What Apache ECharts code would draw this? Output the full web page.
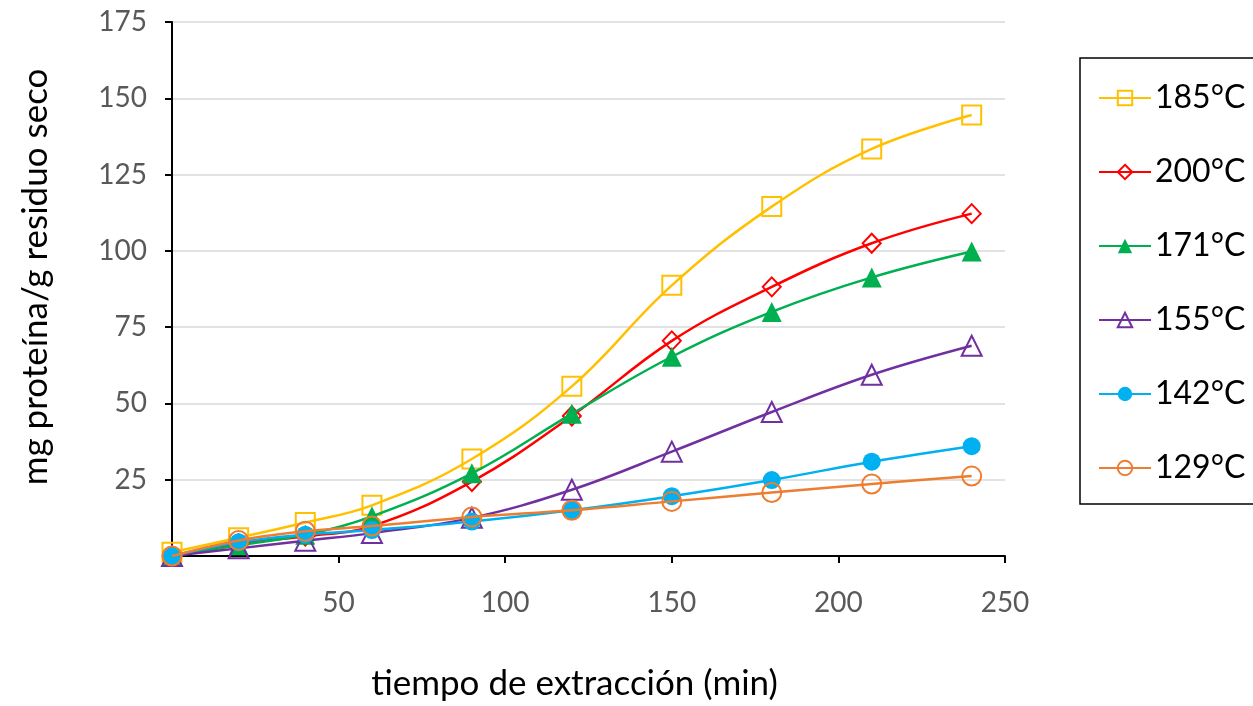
<!DOCTYPE html>
<html>
<head>
<meta charset="utf-8">
<script src="https://cdn.jsdelivr.net/npm/echarts@6/dist/echarts.min.js"></script>
<style>
  html, body { margin: 0; padding: 0; background: #fff; }
  #chart { width: 1253px; height: 706px; }
</style>
</head>
<body>
<div id="chart"></div>
<script>
// Extraction time (min)
const tiempos = [0, 20, 40, 60, 90, 120, 150, 180, 210, 240];

// mg protein / g dry residue at each temperature
const t185 = [1.2, 6.0, 11.0, 16.6, 31.8, 55.6, 88.7, 114.5, 133.4, 144.5];
const t200 = [0.0, 4.0, 6.5, 9.8, 24.4, 45.9, 70.5, 88.2, 102.5, 112.2];
const t171 = [0.0, 3.5, 7.0, 13.0, 27.1, 46.6, 65.3, 80.0, 91.3, 99.8];
const t155 = [0.0, 2.5, 5.0, 7.5, 12.5, 21.7, 34.2, 47.2, 59.4, 68.9];
const t142 = [0.0, 4.5, 7.0, 8.5, 11.3, 15.0, 19.6, 24.9, 30.9, 36.0];
const t129 = [0.0, 5.1, 8.1, 9.8, 12.8, 15.0, 17.9, 20.8, 23.6, 26.2];

const seriesNames = ['185°C', '200°C', '171°C', '155°C', '142°C', '129°C'];
const seriesData = [t185, t200, t171, t155, t142, t129];
const colors = ['#FFC000', '#FF0000', '#00B050', '#7030A0', '#00B0F0', '#ED7D31'];
const symbols = ['rect', 'diamond', 'triangle', 'triangle', 'circle', 'circle'];
const hollow = [true, true, false, true, false, true];
const sizes = [19, 19, 20, 20, 18, 19];

const font = 'Lato, "Liberation Sans", sans-serif';

const series = seriesNames.map((name, i) => ({
  name: name,
  type: 'line',
  smooth: 0.4,
  color: colors[i],
  data: tiempos.map((t, j) => [t, seriesData[i][j]]),
  symbol: symbols[i],
  symbolSize: symbols[i] === 'diamond' ? [18, 19] : sizes[i],
  showAllSymbol: true,
  lineStyle: { color: colors[i], width: 2.5 },
  itemStyle: hollow[i]
    ? { color: 'rgba(255,255,255,0)', borderColor: colors[i], borderWidth: 2 }
    : { color: colors[i], borderColor: colors[i], borderWidth: 0 },
  emphasis: { disabled: true },
  z: 2 + i
}));

const chart = echarts.init(document.getElementById('chart'), null, { renderer: 'canvas' });
chart.setOption({
  animation: false,
  backgroundColor: '#ffffff',
  grid: { left: 172, right: 248, top: 22, bottom: 146, containLabel: false },
  legend: {
    orient: 'vertical',
    left: 1080,
    top: 58,
    width: 172,
    height: 445,
    padding: [24, 20, 20, 18],
    itemGap: 42,
    itemWidth: 52,
    itemHeight: 18,
    borderColor: '#000',
    borderWidth: 1.5,
    textStyle: { fontFamily: font, fontSize: 32, color: '#000', padding: [0, 0, 0, -1] },
    data: seriesNames
  },
  xAxis: {
    type: 'value',
    min: 0,
    max: 250,
    interval: 50,
    name: 'tiempo de extracción (min)',
    nameLocation: 'middle',
    nameGap: 110,
    nameTextStyle: { fontFamily: font, fontSize: 35, color: '#000', padding: [0, 28, 0, 0] },
    axisLine: { show: true, onZero: false, lineStyle: { color: '#000', width: 2 } },
    axisTick: { show: true, inside: false, length: 7, lineStyle: { color: '#000', width: 2 } },
    axisLabel: {
      fontFamily: font, fontSize: 28, color: '#595959', margin: 33,
      formatter: v => (v === 0 ? '' : String(v))
    },
    splitLine: { show: false }
  },
  yAxis: {
    type: 'value',
    min: 0,
    max: 175,
    interval: 25,
    name: 'mg proteína/g residuo seco',
    nameLocation: 'middle',
    nameGap: 119,
    nameTextStyle: { fontFamily: font, fontSize: 35, color: '#000', padding: [0, 0, 0, 24] },
    axisLine: { show: true, lineStyle: { color: '#000', width: 2 } },
    axisTick: { show: true, inside: false, length: 7, lineStyle: { color: '#000', width: 2 } },
    axisLabel: {
      fontFamily: font, fontSize: 28, color: '#595959', margin: 25,
      formatter: v => (v === 0 ? '' : String(v))
    },
    splitLine: { show: true, lineStyle: { color: '#D9D9D9', width: 1.5 } }
  },
  series: series
});
</script>
</body>
</html>
